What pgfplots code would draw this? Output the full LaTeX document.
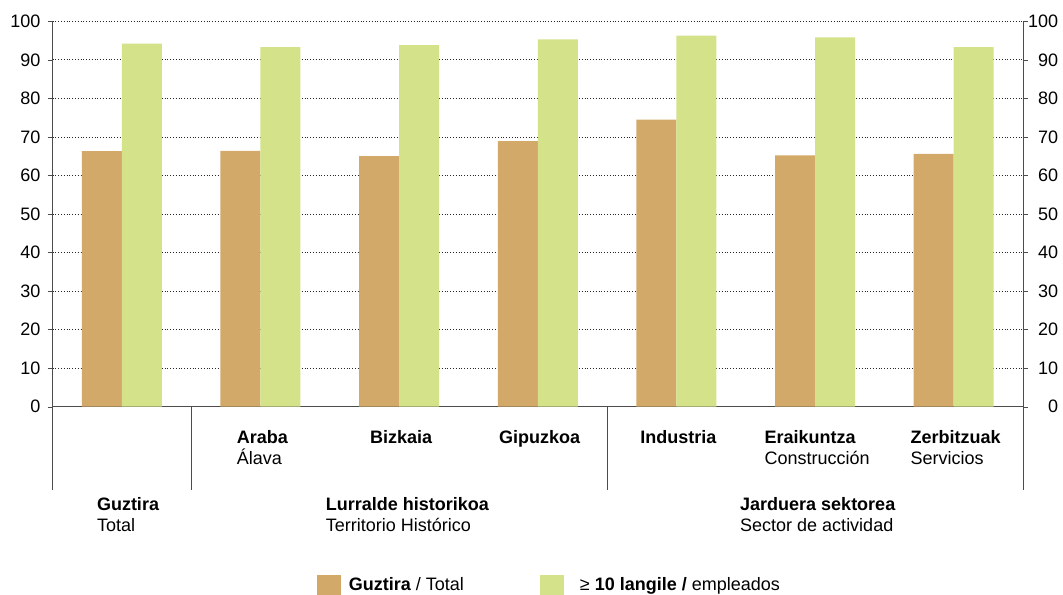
\documentclass[border=0pt]{standalone}
\usepackage{fontspec}
\setmainfont{Liberation Sans}
\usepackage{pgfplots}
\pgfplotsset{compat=1.18}
\definecolor{ocre}{HTML}{D2A968}
\definecolor{verde}{HTML}{D4E28A}
\newcommand{\fs}{\fontsize{9}{10.5}\selectfont}
\begin{document}
\begin{tikzpicture}
\path[use as bounding box] (-26.25pt,-93.65pt) rectangle (505.25pt,203.35pt);
\pgfplotsset{
  base/.style={scale only axis, width=485.25pt, height=192.7pt,
    xmin=-0.5, xmax=6.5, ymin=0, ymax=100, ytick={0,10,...,100},
    tick align=outside, major tick length=2.5pt,
    /pgf/number format/assume math mode=true,
    tick label style={font=\fs},
    axis line style={black!70}, tick style={black!70}}
}
\begin{axis}[base, ybar=0pt, bar width=20pt,
  axis x line*=bottom, axis y line*=left, clip=false,
  ymajorgrids, grid style={black!85, densely dotted, line width=0.4pt},
  xtick=data, xtick style={draw=none},
  xticklabels={{},{\textbf{Araba}\\Álava},{\textbf{Bizkaia}},{\textbf{Gipuzkoa}},
    {\textbf{Industria}},{\textbf{Eraikuntza}\\Construcción},{\textbf{Zerbitzuak}\\Servicios}},
  x tick label style={align=left, anchor=north, inner sep=0pt, yshift=-9pt, xshift=1pt},
  legend columns=2,
  legend style={at={(0.513,0)}, anchor=north, yshift=-81pt, draw=none, fill=none,
    font=\fs, /tikz/every even column/.append style={column sep=36pt},
    /tikz/every odd column/.append style={column sep=2pt}},
  legend cell align=left,
  legend image code/.code={\fill[#1] (0pt,-5pt) rectangle (12pt,5pt);}]
\addplot[fill=ocre, draw=none] coordinates {(0,66.3) (1,66.4) (2,65.0) (3,68.9) (4,74.5) (5,65.2) (6,65.6)};
\addplot[fill=verde, draw=none] coordinates {(0,94.2) (1,93.3) (2,93.8) (3,95.3) (4,96.3) (5,95.8) (6,93.3)};
\legend{\textbf{Guztira} / Total, \hspace{4pt}≥ \textbf{10 langile /} empleados}
\draw[black!70] (axis cs:-0.5,0) -- ++(0pt,-41.5pt);
\draw[black!70] (axis cs:0.5,0) -- ++(0pt,-41.5pt);
\draw[black!70] (axis cs:3.5,0) -- ++(0pt,-41.5pt);
\draw[black!70] (axis cs:6.5,0) -- ++(0pt,-41.5pt);
\node[anchor=north, align=left, font=\fs, inner sep=0pt] at ([yshift=-45pt]axis cs:0.045,0) {\textbf{Guztira}\\Total};
\node[anchor=north, align=left, font=\fs, inner sep=0pt] at ([yshift=-45pt]axis cs:2.06,0) {\textbf{Lurralde historikoa}\\Territorio Histórico};
\node[anchor=north, align=left, font=\fs, inner sep=0pt] at ([yshift=-45pt]axis cs:5.02,0) {\textbf{Jarduera sektorea}\\Sector de actividad};
\end{axis}
\begin{axis}[base, axis x line=none, axis y line*=right,
  yticklabel style={text width=15pt, align=right, xshift=-3.5pt}]
\addplot[draw=none] coordinates {(0,0)};
\end{axis}
\end{tikzpicture}
\end{document}
